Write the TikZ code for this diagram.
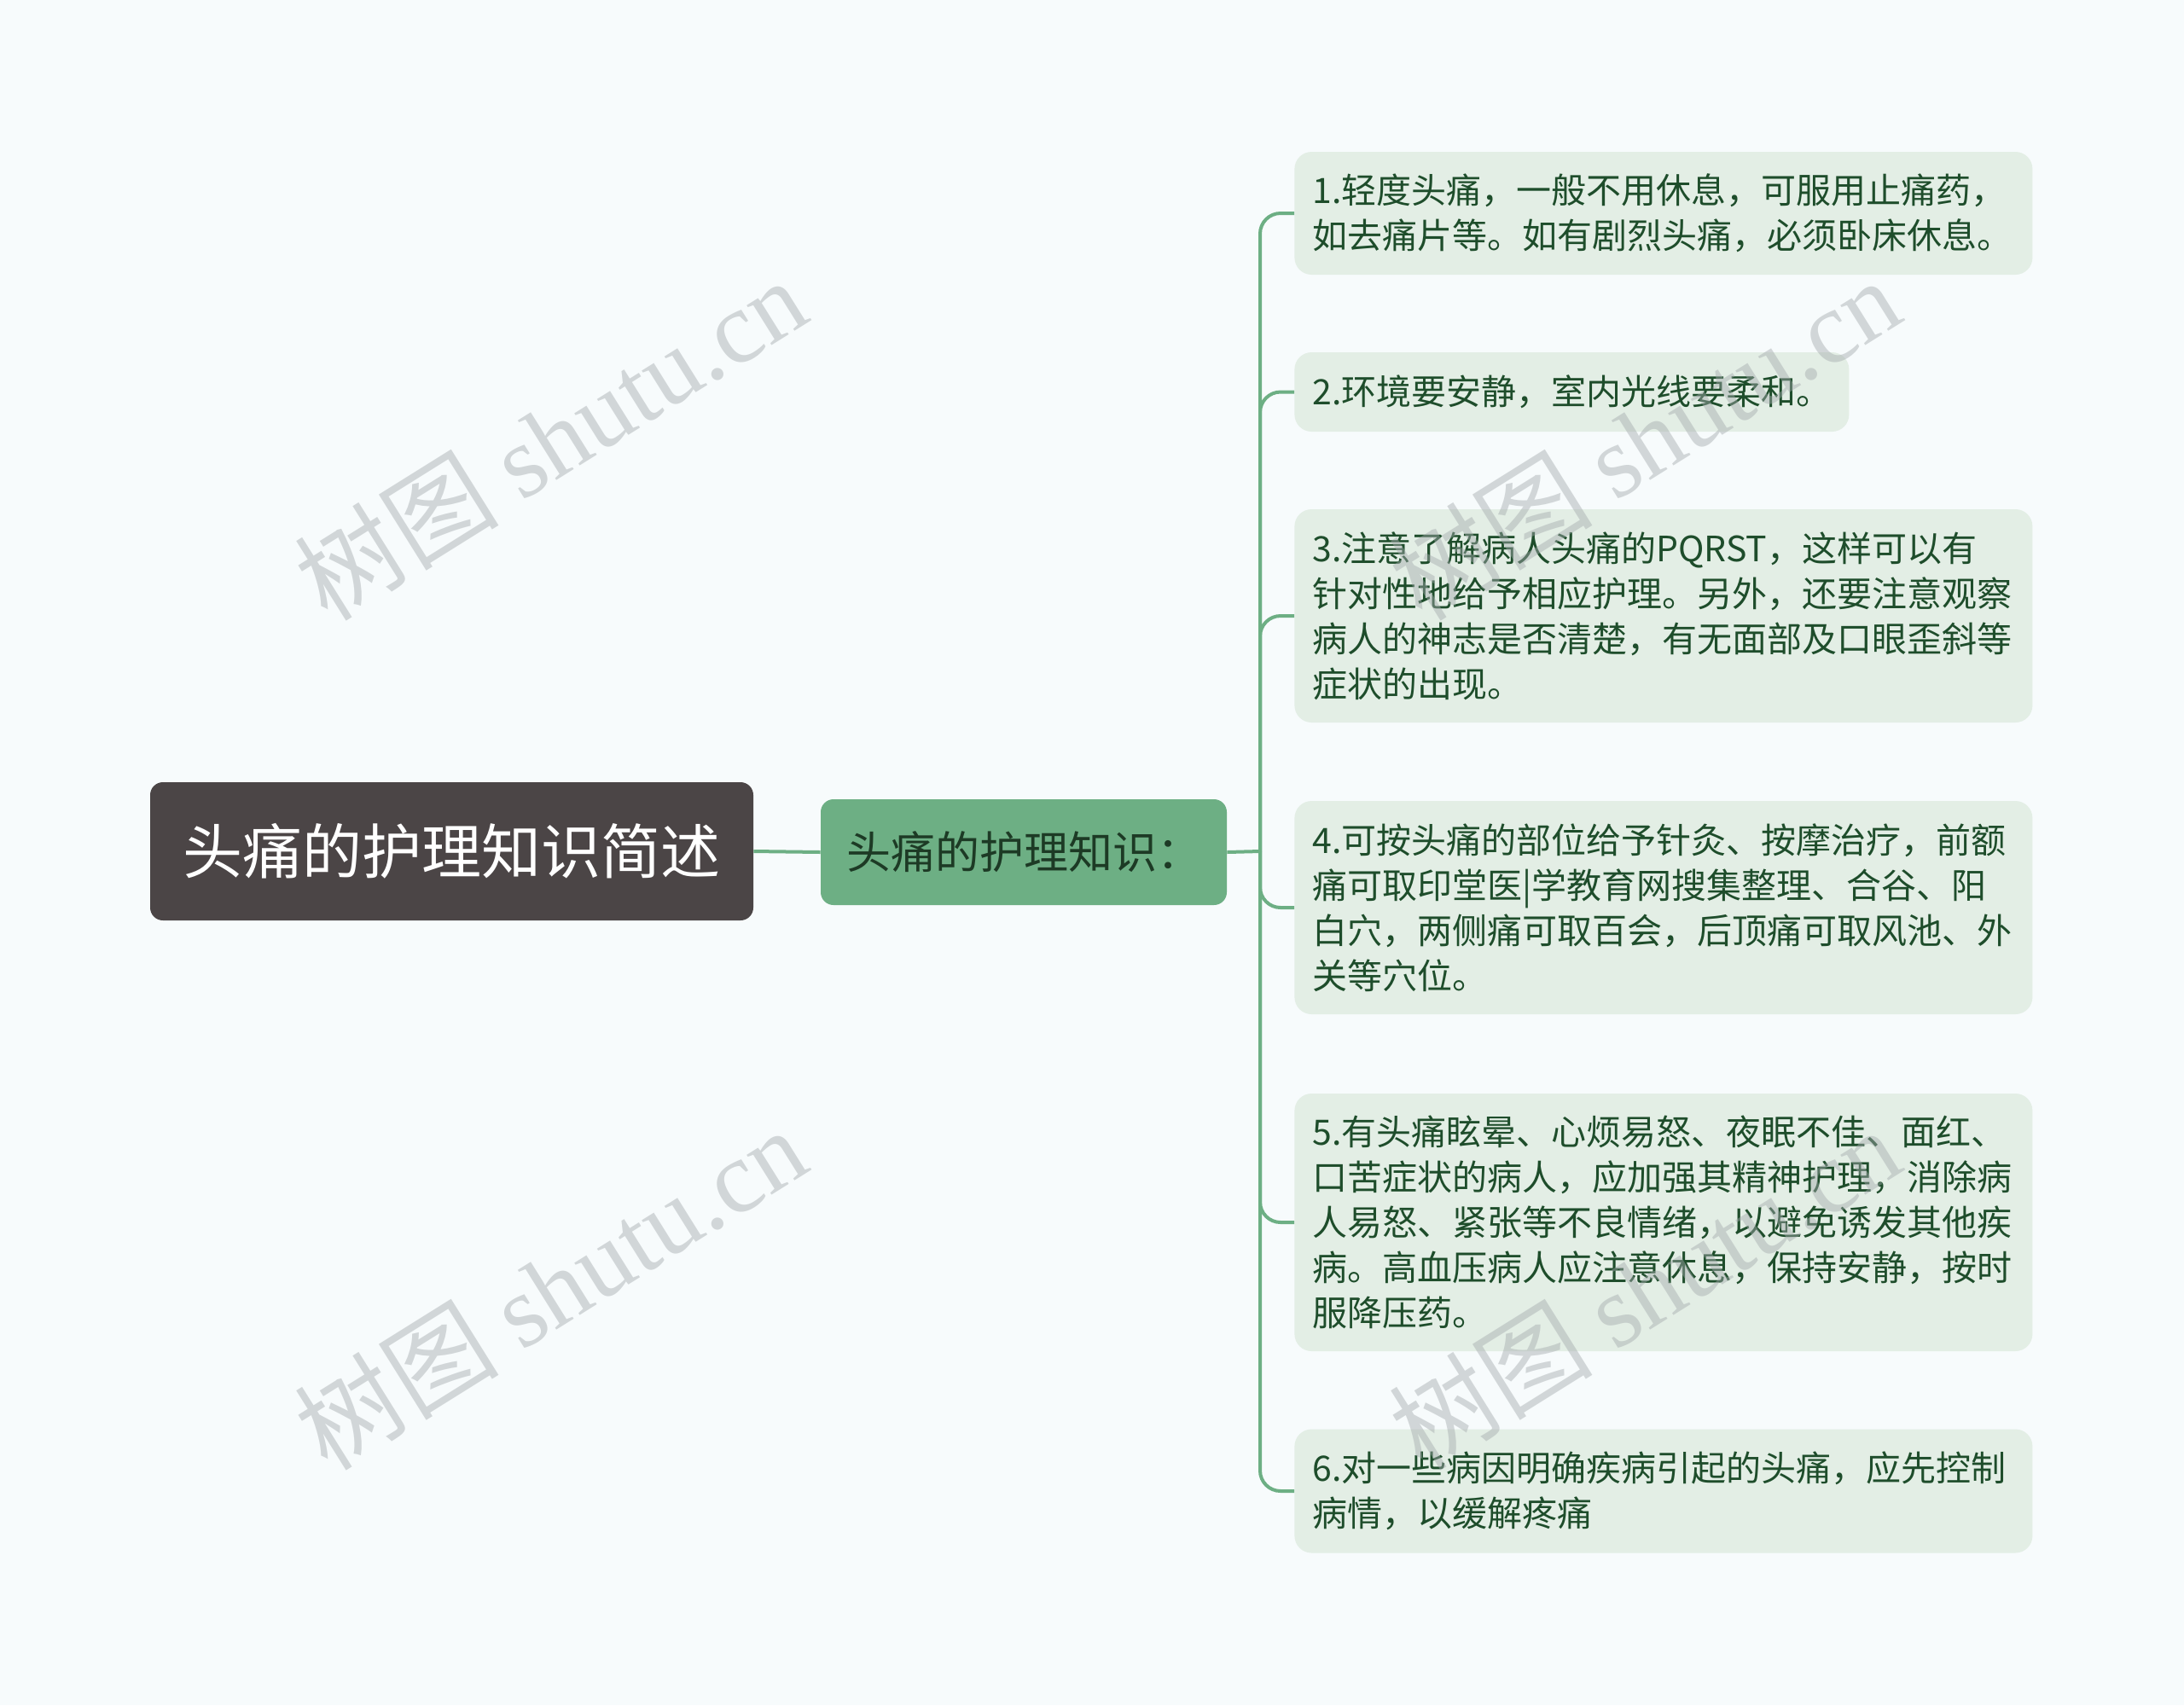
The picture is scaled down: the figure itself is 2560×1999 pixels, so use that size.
\documentclass[tikz,border=0pt]{standalone}
\usepackage{fontspec}
\setmainfont{Noto Sans CJK SC}
\newfontfamily\wmlatin{Liberation Serif}
\definecolor{bgc}{HTML}{F7FBFC}
\definecolor{rootc}{HTML}{4B4546}
\definecolor{mainc}{HTML}{6DAF84}
\definecolor{maintext}{HTML}{1D3A25}
\definecolor{leafc}{HTML}{E3EEE5}
\definecolor{leaftext}{HTML}{1E4D2B}
\definecolor{wmc}{HTML}{A4AAAD}
\begin{document}
\begin{tikzpicture}[x=0.5pt,y=-0.5pt,
  rootbox/.style={fill=rootc, rounded corners=7.5pt, text=white, font=\fontsize{35}{42}\selectfont, minimum width=353.5pt, minimum height=81pt, inner sep=0pt},
  mainbox/.style={fill=mainc, rounded corners=7.5pt, text=maintext, font=\fontsize{26}{32}\selectfont, minimum width=238pt, minimum height=62pt, inner sep=0pt},
  leafbox/.style={fill=leafc, rounded corners=10pt, text=leaftext, font=\fontsize{20.5}{26.5}\selectfont, align=left, anchor=west, inner xsep=10.5pt, inner ysep=0pt, text width=411.5pt, minimum width=432.5pt},
  conn/.style={draw=mainc, line width=2pt},
  wm/.style={text=wmc, opacity=0.45, font=\fontsize{60}{70}\selectfont, rotate=32, inner sep=0pt}
]
\useasboundingbox[fill=bgc] (0,0) rectangle (2560,1999);

\node[rootbox] (root) at (529.5,998) {头痛的护理知识简述};
\node[mainbox] (main) at (1200,999) {头痛的护理知识：};

\node[leafbox, minimum height=72pt] (l1) at (1517,250) {1.轻度头痛，一般不用休息，可服用止痛药，\\如去痛片等。如有剧烈头痛，必须卧床休息。};
\node[leafbox, minimum height=46.5pt, text width=304pt, minimum width=325pt] (l2) at (1517,459.5) {2.环境要安静，室内光线要柔和。};
\node[leafbox, minimum height=125pt] (l3) at (1517,722) {3.注意了解病人头痛的PQRST，这样可以有\\针对性地给予相应护理。另外，还要注意观察\\病人的神志是否清楚，有无面部及口眼歪斜等\\症状的出现。};
\node[leafbox, minimum height=125pt] (l4) at (1517,1064) {4.可按头痛的部位给予针灸、按摩治疗，前额\\痛可取印堂医|学教育网搜集整理、合谷、阳\\白穴，两侧痛可取百会，后顶痛可取风池、外\\关等穴位。};
\node[leafbox, minimum height=151pt] (l5) at (1517,1433) {5.有头痛眩晕、心烦易怒、夜眠不佳、面红、\\口苦症状的病人，应加强其精神护理，消除病\\人易怒、紧张等不良情绪，以避免诱发其他疾\\病。高血压病人应注意休息，保持安静，按时\\服降压药。};
\node[leafbox, minimum height=72.5pt] (l6) at (1517,1748) {6.对一些病因明确疾病引起的头痛，应先控制\\病情，以缓解疼痛};

\coordinate (J) at (1477,998);
\draw[conn] (root.east) -- (main.west);
\draw[conn] (main.east) -- (J);
\foreach \l in {l1,l2,l3,l4,l5,l6}
  \draw[conn, rounded corners=12pt] (J) |- (\l.west);

\node[wm] (w1) at (645,514) {树图 {\wmlatin shutu.cn}};
\node[wm] (w2) at (1927,514) {树图 {\wmlatin shutu.cn}};
\node[wm] (w3) at (645,1510) {树图 {\wmlatin shutu.cn}};
\node[wm] (w4) at (1927,1510) {树图 {\wmlatin shutu.cn}};
\end{tikzpicture}
\end{document}
